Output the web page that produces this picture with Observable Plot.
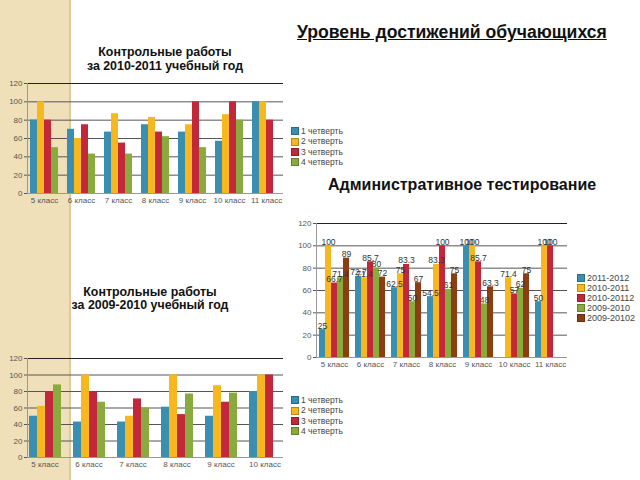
<!DOCTYPE html>
<html><head><meta charset="utf-8">
<script src="https://cdn.jsdelivr.net/npm/d3@7"></script>
<script src="https://cdn.jsdelivr.net/npm/@observablehq/plot@0.6"></script>
<style>
body{margin:0;background:#fff;}
#page{position:relative;width:640px;height:480px;overflow:hidden;background:#fff;font-family:"Liberation Sans",Arial,sans-serif;}
.abs{position:absolute;}
.strip{left:0;top:0;width:69px;height:480px;background:#efe0b9;border-right:2px solid #ddcb9c;}
.ttl{font-weight:bold;color:#111;text-align:center;white-space:nowrap;}
.leg{font-size:8.5px;color:#444;white-space:nowrap;}
.leg div{display:flex;align-items:center;}
.leg span.sw{display:inline-block;width:6px;height:6px;margin-right:2px;border:0.5px solid rgba(0,0,0,0.25);}
.layer svg{position:absolute;left:0;top:0;}
</style>
</head><body>
<div id="page">
  <div class="abs strip"></div>
  <div class="abs ttl" style="left:297px;top:22px;font-size:17.6px;text-decoration:underline;">Уровень достижений обучающихся</div>
  <div class="abs ttl" style="left:65px;top:46px;width:200px;font-size:12.4px;line-height:13.5px;">Контрольные работы<br>за 2010-2011 учебный год</div>
  <div class="abs ttl" style="left:50px;top:286px;width:200px;font-size:12.4px;line-height:13px;">Контрольные работы<br>за 2009-2010 учебный год</div>
  <div class="abs ttl" style="left:328px;top:176px;font-size:16px;">Административное тестирование</div>
  <div id="c1" class="abs layer" style="left:0;top:75px;width:290px;height:140px;"></div>
  <div id="c2" class="abs layer" style="left:296px;top:215px;width:274px;height:160px;"></div>
  <div id="c3" class="abs layer" style="left:0;top:345px;width:290px;height:132px;"></div>
  <div id="l1" class="abs leg" style="left:291px;top:126px;line-height:10.4px;"></div>
  <div id="l3" class="abs leg" style="left:291px;top:395px;line-height:10.4px;"></div>
  <div id="l2" class="abs leg" style="left:577px;top:273px;line-height:10px;font-size:9px;"></div>
</div>
<script>
// ---- data ----
const classes7 = ["5 класс","6 класс","7 класс","8 класс","9 класс","10 класс","11 класс"];
const classes6 = ["5 класс","6 класс","7 класс","8 класс","9 класс","10 класс"];
const quarters = ["1 четверть","2 четверть","3 четверть","4 четверть"];
const yTicks = [0,20,40,60,80,100,120];

// Контрольные работы 2010-2011
const q1_1011 = [80,70,67,75,67,57,100];
const q2_1011 = [100,60,87,83,75,86,100];
const q3_1011 = [80,75,55,67,100,100,80];
const q4_1011 = [50,43,43,62,50,80,null];

// Контрольные работы 2009-2010
const q1_0910 = [50,43,43,61,50,80];
const q2_0910 = [62,100,50,100,87,100];
const q3_0910 = [80,80,71,52,67,100];
const q4_0910 = [88,67,60,77,78,null];

// Административное тестирование
const years = ["2011-2012","2010-2011","2010-20112","2009-2010","2009-20102"];
const a_2011_2012  = [25,72.7,62.5,54.5,100,null,50];
const a_2010_2011  = [100,71.4,75,83.3,100,71.4,100];
const a_2010_20112 = [66.7,85.7,83.3,100,85.7,57,100];
const a_2009_2010  = [71.4,80,50,61,48,62,null];
const a_2009_20102 = [89,72,67,75,63.3,75,null];

const col4 = ["#3a8fb0","#f7b81f","#c2283a","#89aa3c"];
const col5 = ["#3a8fb0","#f7b81f","#c2283a","#89aa3c","#8b3d14"];

function rowsOf(classes, names, arrays){
  const rows = [];
  classes.forEach((c,i)=>names.forEach((n,j)=>{
    const v = arrays[j][i];
    if (v != null) rows.push({cls:c, series:n, value:v});
  }));
  return rows;
}

const FONT = "Liberation Sans, Arial, sans-serif";

function chart(el, cfg){
  const {classes, names, colors, rows, width, height, mt, mb, ml, mr, pad, labels} = cfg;
  const common = {width, height, marginTop:mt, marginBottom:mb, marginLeft:ml, marginRight:mr};
  const grid = Plot.plot({
    ...common,
    style:{background:"transparent", fontFamily:FONT, fontSize:"8px", color:"#555"},
    x:{domain:[0,1], axis:null},
    y:{domain:[0,120], ticks:yTicks, tickSize:3, tickPadding:2, label:null},
    marks:[
      Plot.ruleY(yTicks.filter(d=>d>0), {stroke:d=>d===120?"#222":"#555", strokeWidth:1}),
      Plot.ruleY([0], {stroke:"#999"}),
      Plot.ruleX([0], {stroke:"#999"})
    ]
  });
  const marks = [
    Plot.barY(rows, {fx:"cls", x:"series", y:"value", fill:"series"})
  ];
  if (labels) marks.push(Plot.text(rows, {fx:"cls", x:"series", y:"value", text:d=>String(d.value), lineAnchor:"bottom", dy:-1, fill:"#333", fontSize:8.5}));
  const bars = Plot.plot({
    ...common,
    style:{background:"transparent", fontFamily:FONT, fontSize:"8px", color:"#555"},
    fx:{domain:classes, padding:pad, axis:"bottom", label:null, tickSize:0, tickPadding:4},
    x:{domain:names, axis:null, padding:0},
    y:{domain:[0,120], axis:null},
    color:{domain:names, range:colors},
    marks
  });
  el.appendChild(grid);
  el.appendChild(bars);
}

function legend(el, names, colors){
  names.forEach((n,i)=>{
    const d = document.createElement("div");
    d.innerHTML = `<span class="sw" style="background:${colors[i]}"></span>${n}`;
    el.appendChild(d);
  });
}

chart(document.getElementById("c1"), {
  classes:classes7, names:quarters, colors:col4,
  rows:rowsOf(classes7, quarters, [q1_1011,q2_1011,q3_1011,q4_1011]),
  width:290, height:140, mt:8, mb:22, ml:27, mr:7, pad:0.18, labels:false
});
chart(document.getElementById("c3"), {
  classes:classes6, names:quarters, colors:col4,
  rows:rowsOf(classes6, quarters, [q1_0910,q2_0910,q3_0910,q4_0910]),
  width:290, height:132, mt:13, mb:20, ml:27, mr:7, pad:0.2, labels:false
});
chart(document.getElementById("c2"), {
  classes:classes7, names:years, colors:col5,
  rows:rowsOf(classes7, years, [a_2011_2012,a_2010_2011,a_2010_20112,a_2009_2010,a_2009_20102]),
  width:274, height:160, mt:8, mb:18, ml:20, mr:3, pad:0.17, labels:true
});
legend(document.getElementById("l1"), quarters, col4);
legend(document.getElementById("l3"), quarters, col4);
legend(document.getElementById("l2"), years, col5);
</script>
</body></html>
